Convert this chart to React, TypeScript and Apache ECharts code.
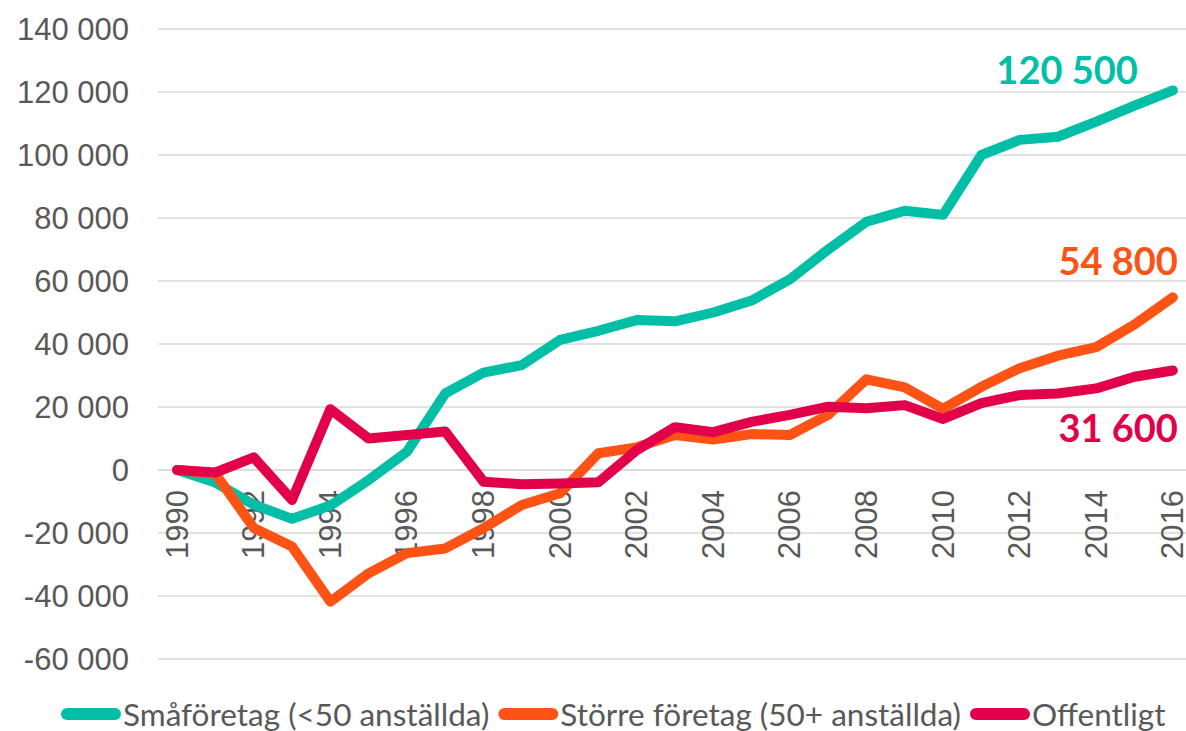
import React, { useEffect, useRef } from "react";
import * as echarts from "echarts";

const years = [
  "1990","1991","1992","1993","1994","1995","1996","1997","1998","1999",
  "2000","2001","2002","2003","2004","2005","2006","2007","2008","2009",
  "2010","2011","2012","2013","2014","2015","2016",
];

const smaforetag = [
  0, -4000, -11000, -15500, -11300, -3200, 5800, 24300, 30900, 33300,
  41300, 44200, 47600, 47200, 50000, 53800, 60500, 70000, 78800, 82300,
  81000, 100000, 104800, 105800, 110600, 115700, 120500,
];

const storreForetag = [
  0, -1200, -18400, -24300, -41800, -32800, -26400, -24900, -18500, -11100,
  -7400, 5300, 7200, 11100, 9700, 11400, 11100, 17500, 28800, 26200,
  19400, 26400, 32300, 36300, 39000, 46200, 54800,
];

const offentligt = [
  0, -800, 4000, -9500, 19300, 10000, 11100, 12200, -3700, -4500,
  -4300, -3900, 6300, 13600, 12000, 15300, 17500, 20100, 19600, 20600,
  16200, 21200, 23800, 24300, 25900, 29600, 31600,
];

const seriesNames = [
  "Småföretag (<50 anställda)",
  "Större företag (50+ anställda)",
  "Offentligt",
];
const endLabels = ["120 500", "54 800", "31 600"];
const colors = ["#00BFA6", "#FF5316", "#E2004A"];

const yMin = -60000;
const yMax = 140000;

const fmt = (v: number) => {
  const s = Math.abs(v).toString().replace(/\B(?=(\d{3})+(?!\d))/g, " ");
  return (v < 0 ? "-" : "") + s;
};

export default function App() {
  const ref = useRef<HTMLDivElement>(null);
  useEffect(() => {
    if (!ref.current) return;
    const chart = echarts.init(ref.current, undefined, { renderer: "svg" });
    const dataSets = [smaforetag, storreForetag, offentligt];
    const labelOffsets = [
      [-35, -21],
      [5, -37],
      [5, 57],
    ];
    const iconPath =
      "path://M6,0 H54 A6,6 0 0 1 54,12 H6 A6,6 0 0 1 6,0 Z";
    chart.setOption({
      animation: false,
      backgroundColor: "#ffffff",
      grid: {
        left: 158,
        right: -6,
        top: 29,
        bottom: 72,
        containLabel: false,
        outerBoundsMode: "none",
      },
      legend: {
        left: 61,
        bottom: 1,
        padding: 0,
        itemWidth: 60,
        itemHeight: 12,
        itemGap: 9,
        icon: iconPath,
        textStyle: {
          fontFamily: "Lato",
          fontSize: 31.5,
          lineHeight: 28,
          color: "#595959",
          padding: [0, 0, 0, -3],
        },
        data: seriesNames,
      },
      xAxis: {
        type: "category",
        data: years,
        boundaryGap: true,
        axisLine: { show: true, onZero: true, lineStyle: { color: "#D9D9D9", width: 1.5 } },
        axisTick: { show: false },
        axisLabel: {
          interval: 1,
          rotate: 90,
          margin: 20,
          fontFamily: "Liberation Sans",
          fontSize: 31,
          lineHeight: 26,
          color: "#595959",
        },
        splitLine: { show: false },
      },
      yAxis: {
        type: "value",
        min: yMin,
        max: yMax,
        interval: 20000,
        axisLine: { show: false },
        axisTick: { show: false },
        axisLabel: {
          margin: 29,
          fontFamily: "Liberation Sans",
          fontSize: 31,
          color: "#595959",
          formatter: (v: number) => fmt(v),
        },
        splitLine: { lineStyle: { color: "#D9D9D9", width: 1.5 } },
      },
      series: dataSets.map((d, i) => ({
        name: seriesNames[i],
        type: "line",
        data: d,
        showSymbol: false,
        symbol: "none",
        color: colors[i],
        lineStyle: { width: 10, color: colors[i], cap: "round", join: "round" },
        endLabel: {
          show: true,
          formatter: () => endLabels[i],
          align: "right",
          verticalAlign: "middle",
          distance: 0,
          offset: labelOffsets[i],
          fontFamily: "Lato",
          fontWeight: "bold",
          fontSize: 38,
          color: colors[i],
        },
      })),
    });
    // place the category axis (and its labels) on the zero line
    const zeroY = chart.convertToPixel({ yAxisIndex: 0 }, 0) as number;
    const bottomY = chart.convertToPixel({ yAxisIndex: 0 }, yMin) as number;
    if (isFinite(zeroY) && isFinite(bottomY)) {
      chart.setOption({ xAxis: { offset: zeroY - bottomY } });
    }
    return () => chart.dispose();
  }, []);
  return (
    <div
      ref={ref}
      style={{ position: "fixed", left: 0, top: 0, width: 1186, height: 731 }}
    />
  );
}
